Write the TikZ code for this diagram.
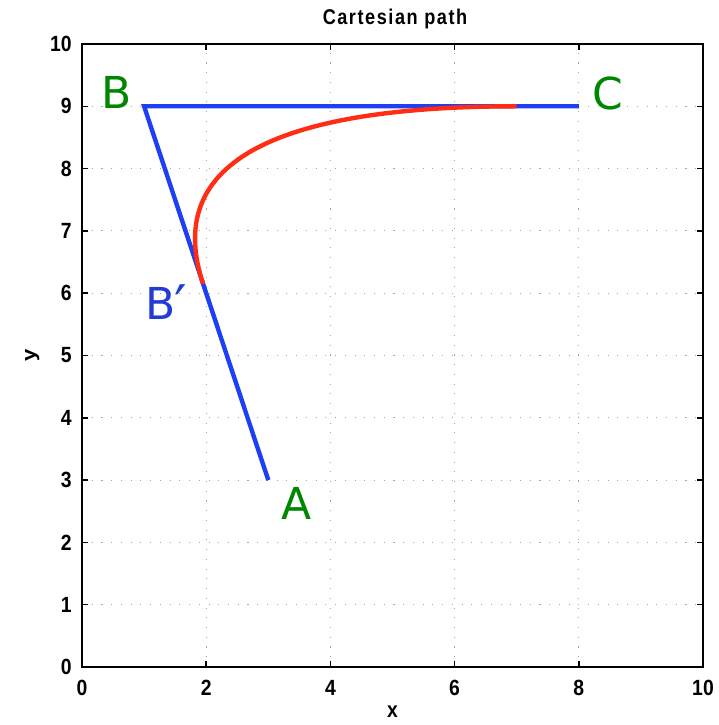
\documentclass[tikz,border=0pt]{standalone}
\usepackage{fontspec}
\setmainfont{Liberation Sans}
\newfontfamily\lblfont{DejaVu Sans}
\definecolor{lblgreen}{RGB}{0,135,0}
\definecolor{pathblue}{RGB}{30,64,240}
\definecolor{pathred}{RGB}{255,45,20}
\definecolor{primeblue}{RGB}{35,60,215}
\tikzset{
  gridline/.style={gray!70, line width=0.8pt, dash pattern=on 0.8pt off 6.5pt},
  frameline/.style={black, line width=1.1pt},
  tickline/.style={black, line width=1.1pt},
  ticklbl/.style={font=\fontsize{16.5}{17}\bfseries, xscale=0.88},
  ptlbl/.style={font=\lblfont\fontsize{33}{34}\selectfont, inner sep=0pt},
  bluepath/.style={pathblue, line width=3.3pt},
  redpath/.style={pathred, line width=3.3pt},
}
\begin{document}
\begin{tikzpicture}[x=0.75pt,y=0.75pt]
\useasboundingbox (0,0) rectangle (718,725);
\begin{scope}[shift={(61.5pt,43.5pt)}, x=46.575pt, y=46.725pt]
  % grid
  \foreach \i in {2,4,6,8} \draw[gridline] (\i,0) -- (\i,10);
  \foreach \j in {1,...,9} \draw[gridline] (0,\j) -- (10,\j);
  % ticks
  \foreach \i in {0,2,...,10} {
    \draw[tickline] (\i,0) -- (\i,0.1);
    \draw[tickline] (\i,10) -- (\i,9.9);
    \node[ticklbl] (xt\i) at (\i,-0.34) {\i};
  }
  \foreach \j in {0,...,10} {
    \draw[tickline] (0,\j) -- (0.1,\j);
    \draw[tickline] (10,\j) -- (9.9,\j);
    \node[ticklbl, anchor=east] (yt\j) at (-0.1,\j) {\j};
  }
  % frame
  \draw[frameline] (0,0) rectangle (10,10);
  % axis labels and title
  \node[ticklbl] (xlab) at (5.0,-0.72) {x};
  \node[ticklbl, rotate=90] (ylab) at (-0.8,5.0) {y};
  \node[font=\fontsize{16}{17}\bfseries\addfontfeatures{LetterSpace=8.5}, xscale=0.85] (title) at (5.04,10.4) {Cartesian path};
  % points
  \coordinate (A) at (3,3);
  \coordinate (B) at (1,9);
  \coordinate (C) at (8,9);
  \coordinate (Bp) at (1.95,6.15);
  \coordinate (Cp) at (7,9);
  \coordinate (c1) at (1.317,8.05);
  \coordinate (c2) at (3,9);
  % paths
  \draw[bluepath, line join=miter] (A) -- (B) -- (C);
  \draw[redpath] (Bp) .. controls (c1) and (c2) .. (Cp);
  % labels
  \node[ptlbl, text=lblgreen] (lB) at (0.56,9.23) {B};
  \node[ptlbl, text=lblgreen] (lC) at (8.47,9.2) {C};
  \node[ptlbl, text=lblgreen] (lA) at (3.46,2.63) {A};
  \node[ptlbl, text=primeblue, anchor=base west] (lBp) at (1.02,5.57) {B\raisebox{-4pt}{\fontsize{42}{42}\selectfont\kern-1pt′}};
\end{scope}
\end{tikzpicture}
\end{document}
